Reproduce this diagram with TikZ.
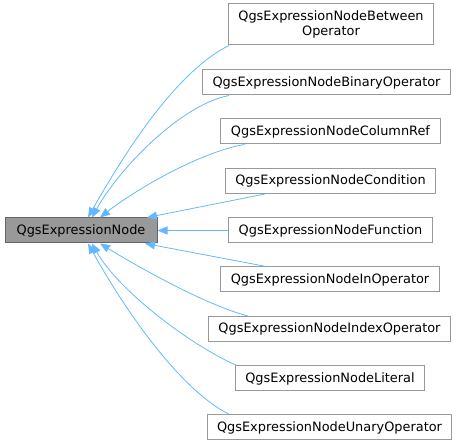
\documentclass[tikz,border=0pt]{standalone}
\usepackage{fontspec}
\setmainfont{DejaVu Sans}
\usepackage{xcolor}
\usepackage{tikz}
\usetikzlibrary{arrows.meta,calc}
\definecolor{edgeblue}{HTML}{63B8FF}
\definecolor{boxgray}{HTML}{999999}
\definecolor{darkgray}{HTML}{666666}

\begin{document}
\begin{tikzpicture}[x=1pt,y=-1pt,
  classbox/.style={draw=boxgray, fill=white, line width=1pt, inner xsep=10pt, inner ysep=0pt,
    minimum height=25pt, font=\fontsize{12.9}{15}\selectfont, align=center},
  basebox/.style={classbox, draw=darkgray, fill=boxgray},
  inherit/.style={edgeblue, line width=0.8pt, -{Triangle[length=10pt,width=8pt]}}]
\useasboundingbox (0,0) rectangle (461,446);
% base class
\node[basebox, minimum width=152pt] (base) at (81,230.5) {QgsExpressionNode};
% derived classes
\node[classbox, minimum height=41pt] (between) at (331,24.5) {QgsExpressionNodeBetween\\Operator};
\node[classbox] (binary) at (326.5,82.5) {QgsExpressionNodeBinaryOperator};
\node[classbox] (columnref) at (330.5,131.5) {QgsExpressionNodeColumnRef};
\node[classbox] (condition) at (330.5,181) {QgsExpressionNodeCondition};
\node[classbox] (function) at (330.5,230.5) {QgsExpressionNodeFunction};
\node[classbox] (inop) at (330,279.5) {QgsExpressionNodeInOperator};
\node[classbox] (indexop) at (329.5,329) {QgsExpressionNodeIndexOperator};
\node[classbox] (literal) at (330,378.5) {QgsExpressionNodeLiteral};
\node[classbox] (unary) at (329.5,427.5) {QgsExpressionNodeUnaryOperator};
% inheritance edges
\draw[inherit] ([xshift=1pt]between.south west) .. controls (180,70) and (132,140) .. ([xshift=7pt]base.north);
\draw[inherit] ([xshift=27pt]binary.south west) .. controls (180,105) and (118,170) .. ([xshift=11pt]base.north);
\draw[inherit] ([xshift=24pt]columnref.south west) .. controls (200,152) and (135,190) .. ([xshift=19pt]base.north);
\draw[inherit] ([xshift=40pt]condition.south west) -- ([xshift=66pt]base.north);
\draw[inherit] (function.west) -- (base.east);
\draw[inherit] ([xshift=46pt]inop.north west) -- ([xshift=64pt]base.south);
\draw[inherit] ([xshift=40pt]indexop.north west) .. controls (205,305) and (135,265) .. ([xshift=19pt]base.south);
\draw[inherit] ([xshift=2pt]literal.north west) .. controls (190,345) and (118,290) .. ([xshift=11pt]base.south);
\draw[inherit] ([xshift=23pt]unary.north west) .. controls (180,390) and (125,310) .. ([xshift=7pt]base.south);
\end{tikzpicture}
\end{document}
